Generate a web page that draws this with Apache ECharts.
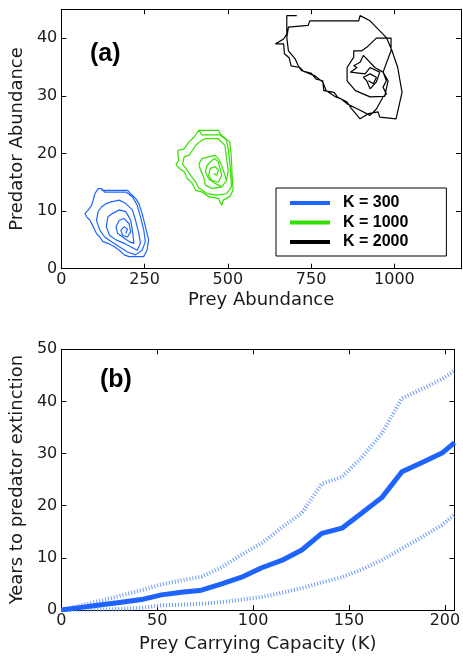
<!DOCTYPE html>
<html>
<head>
<meta charset="utf-8">
<script src="https://cdn.jsdelivr.net/npm/echarts@6/dist/echarts.min.js"></script>
<style>
html,body{margin:0;padding:0;background:#fff;}
#chart{width:463px;height:659px;}
</style>
</head>
<body>
<div id="chart"></div>
<script>
// ---------- Panel (a): predator-prey trajectories [prey, predator] ----------
var trajK300 = [
  [120.4,13.6],[198.7,13.6],[208.5,13.0],[223.1,12.2],[232.9,11.3],[242.7,9.6],[252.5,7.3],[262.3,5.0],[257.4,3.2],[247.6,2.1],
  [228.0,2.1],[203.6,2.1],[188.9,2.4],[174.2,3.2],[159.5,3.8],[140.0,4.4],[125.3,4.7],[115.5,5.5],[105.7,6.1],[95.9,7.3],
  [86.1,8.4],[76.3,9.0],[71.4,9.6],[81.2,10.2],[91.0,11.0],[95.9,11.9],[100.8,13.0],[110.6,13.9],[120.4,13.9],
  [130.2,13.3],[193.8,13.3],[213.4,12.5],[228.0,11.0],[237.8,9.0],[247.6,6.7],[252.5,4.7],[242.7,3.2],[223.1,2.4],[198.7,2.9],
  [174.2,3.8],[149.7,4.7],[130.2,5.5],[115.5,6.7],[105.7,8.4],[110.6,9.9],[120.4,10.7],[135.1,11.3],[149.7,11.6],[174.2,11.9],
  [193.8,11.3],[213.4,10.2],[223.1,8.4],[232.9,6.1],[237.8,4.4],[228.0,3.2],[208.5,3.8],[188.9,4.4],[164.4,5.0],[144.8,5.8],
  [135.1,7.3],[140.0,9.0],[154.6,9.6],[174.2,10.2],[193.8,9.9],[208.5,8.4],[213.4,6.7],[218.3,4.4],[203.6,4.7],[184.0,5.5],
  [169.3,6.1],[164.4,7.3],[174.2,8.4],[188.9,8.7],[203.6,7.8],[208.5,6.4],[198.7,5.5],[184.0,5.8],[179.1,6.7],[188.9,7.3],
  [198.7,6.9],[193.8,6.1]
];
var trajK1000 = [
  [413.0,24.0],[471.7,24.0],[481.5,23.1],[506.0,22.0],[510.9,19.1],[512.8,16.2],[515.8,13.6],[506.0,12.5],[486.4,11.9],[481.5,11.0],
  [471.7,12.2],[442.4,12.5],[422.8,13.3],[403.2,13.6],[393.4,14.8],[378.8,15.6],[369.0,16.8],[354.3,17.4],[344.5,18.05],[352.3,18.8],
  [349.4,20.5],[369.0,20.8],[383.7,22.0],[398.3,22.8],[413.0,24.0],
  [422.8,23.2],[476.6,23.2],[496.2,22.3],[501.1,20.8],[506.0,18.5],[508.9,16.2],[510.9,14.2],[496.2,13.0],[466.8,12.75],[437.5,13.03],
  [413.0,14.0],[403.2,15.05],[388.5,16.2],[373.9,17.4],[364.1,18.2],[369.0,19.4],[383.7,19.7],[393.4,20.5],[403.2,21.4],[422.8,22.3],
  [432.6,22.55],[471.7,22.55],[491.3,21.4],[496.2,19.1],[501.1,17.1],[496.2,15.3],[481.5,14.2],[452.2,13.9],[432.6,14.5],[427.7,15.9],
  [417.9,17.1],[413.0,18.2],[422.8,19.1],[442.4,19.4],[461.9,19.67],[471.7,19.1],[481.5,17.9],[491.3,16.2],[496.2,15.3],
  [481.5,14.2],[461.9,14.8],[442.4,15.6],[432.6,16.8],[437.5,17.9],[452.2,18.8],[461.9,19.1],[471.7,18.5],[476.6,17.4],[481.5,16.2],
  [471.7,15.0],[452.2,15.3],[442.4,16.2],[447.3,17.4],[461.9,17.7],[471.7,17.1],[466.8,16.2],[457.1,16.5]
];
var trajK2000 = [
  [707,43.9],[677,43.9],[677,40.7],[667.5,39.85],[643,39.0],[667.5,39.0],[670,37.3],[684,36.6],[690,35.2],[716,34.9],
  [726,34.3],[751,33.9],[765,32.9],[785,32.6],[788,30.9],[819,30.6],[829,29.8],[858,28.9],[868,28.0],[897,26.0],
  [922,26.9],[951,27.2],[956,26.3],[1005,26.0],[1023,30.6],[1010,34.9],[993,37.8],[976,40.1],[927,43.0],[897,43.9],
  [893,43.0],[746,43.0],[741,42.2],[682,41.9],[677,40.1],[682,37.8],[702,36.4],[711.5,35.2],[721,34.4],[760,33.5],
  [785,32.4],[795,30.9],[824,29.8],[839,29.5],[858,28.6],[897,27.5],[927,26.6],[946,27.7],[966,29.8],[976,30.3],
  [966,31.5],[976,32.6],[966,34.1],[990,37.8],[990,40.0],[946,40.0],[917,38.4],[902,37.8],[878,37.8],[878,36.7],
  [858,34.9],[858,32.6],[883,30.9],[927,29.8],[971,29.9],[981,32.6],[966,34.1],[941.5,34.9],[907,37.0],[897,35.8],
  [878,35.2],[888,34.9],[868,34.1],[912,33.8],[927,34.9],[956,34.1],[946,32.4],[927,31.2],[917,32.6],[907,33.2],
  [927,33.8],[946,33.2],[937,32.1],[922,32.6]
];
var legendNames = ['K = 300', 'K = 1000', 'K = 2000'];

// ---------- Panel (b): years to predator extinction ----------
var capacityK = [0,10.4,20.9,31.3,41.8,52.2,62.7,73.1,83.6,94,104.5,114.9,125.4,135.8,146.3,156.7,167.2,177.6,188.1,198.5,205];
var meanYears = [0,0.5,1.0,1.5,2.0,2.9,3.4,3.8,5.0,6.3,8.1,9.5,11.5,14.7,15.7,18.6,21.6,26.5,28.3,30.1,32.1];
var upperYears = [0,0.9,1.8,2.8,3.8,4.9,5.7,6.4,8.2,10.6,12.8,15.8,18.6,24.2,25.5,29.3,33.9,40.6,42.4,44.3,45.9];
var lowerYears = [0,0.05,0.1,0.2,0.4,0.9,1.0,1.2,1.5,2.0,2.5,3.3,4.2,5.3,6.3,7.8,9.6,11.8,14.0,16.3,18.3];

function zip(xs, ys){ return xs.map(function(x,i){ return [x, ys[i]]; }); }

var tickFont = {fontFamily:'DejaVu Sans', fontSize:16, color:'#1a1a1a'};
var nameFont = {fontFamily:'DejaVu Sans', fontSize:18, color:'#1a1a1a'};

function mainAxis(gridIndex, pos, min, max, interval, name, nameGap, isY, showMax){
  return {
    type:'value', gridIndex:gridIndex, position:pos, min:min, max:max, interval:interval,
    name:name, nameLocation:'middle', nameGap:nameGap, nameRotate: isY ? 90 : 0,
    nameTextStyle:nameFont,
    axisLine:{show:true, onZero:false, lineStyle:{color:'#000', width:1}},
    axisTick:{show:true, inside:true, length:5, lineStyle:{color:'#000', width:1}},
    axisLabel:Object.assign({show:true, margin:isY ? 4 : 3, showMaxLabel:showMax,
      formatter:function(v){ return String(v); }}, tickFont),
    splitLine:{show:false}
  };
}
function mirrorAxis(gridIndex, pos, min, max, interval){
  return {
    type:'value', gridIndex:gridIndex, position:pos, min:min, max:max, interval:interval,
    axisLine:{show:true, onZero:false, lineStyle:{color:'#000', width:1}},
    axisTick:{show:true, inside:true, length:5, lineStyle:{color:'#000', width:1}},
    axisLabel:{show:false}, splitLine:{show:false}
  };
}

var chart = echarts.init(document.getElementById('chart'), null, {renderer:'canvas'});
var option = {
  animation:false,
  backgroundColor:'#fff',
  grid:[
    {left:54, right:2, top:9.3, bottom:390.3},
    {left:54, right:2, top:349.3, bottom:49}
  ],
  xAxis:[
    mainAxis(0,'bottom',0,1200,250,'Prey Abundance',23,false,false),
    mirrorAxis(0,'top',0,1200,250),
    mainAxis(1,'bottom',0,205,50,'Prey Carrying Capacity (K)',25,false,false),
    mirrorAxis(1,'top',0,205,50)
  ],
  yAxis:[
    mainAxis(0,'left',0,45,10,'Predator Abundance',24,true,false),
    mirrorAxis(0,'right',0,45,10),
    mainAxis(1,'left',0,50,10,'Years to predator extinction',24,true,true),
    mirrorAxis(1,'right',0,50,10)
  ],
  legend:{
    data:legendNames, orient:'vertical', left:276, top:188,
    icon:'rect', itemWidth:40, itemHeight:4, itemGap:3.5,
    padding:[7,38,6,14], borderColor:'#000', borderWidth:1, backgroundColor:'#fff',
    selectedMode:false,
    textStyle:{fontFamily:'Liberation Sans', fontWeight:'bold', fontSize:16, color:'#000', lineHeight:16, padding:[0,0,0,8]}
  },
  graphic:[
    {type:'text', left:90, top:42, style:{text:'(a)', font:'bold 25px "Liberation Sans"', fill:'#000'}},
    {type:'text', left:100, top:368, style:{text:'(b)', font:'bold 25px "Liberation Sans"', fill:'#000'}}
  ],
  series:[
    {name:legendNames[0], type:'line', xAxisIndex:0, yAxisIndex:0, data:trajK300, showSymbol:false, symbol:'none',
     lineStyle:{color:'#1f66ff', width:1.2}, itemStyle:{color:'#1f66ff'}, z:3},
    {name:legendNames[1], type:'line', xAxisIndex:0, yAxisIndex:0, data:trajK1000, showSymbol:false, symbol:'none',
     lineStyle:{color:'#33e000', width:1.2}, itemStyle:{color:'#33e000'}, z:3},
    {name:legendNames[2], type:'line', xAxisIndex:0, yAxisIndex:0, data:trajK2000, showSymbol:false, symbol:'none',
     lineStyle:{color:'#000', width:1.2}, itemStyle:{color:'#000'}, z:3},
    {name:'upper', type:'line', xAxisIndex:2, yAxisIndex:2, data:zip(capacityK, upperYears), showSymbol:false, symbol:'none',
     lineStyle:{color:'#6b9bff', width:4, type:[1,2]}, z:2},
    {name:'lower', type:'line', xAxisIndex:2, yAxisIndex:2, data:zip(capacityK, lowerYears), showSymbol:false, symbol:'none',
     lineStyle:{color:'#6b9bff', width:4, type:[1,2]}, z:2},
    {name:'mean', type:'line', xAxisIndex:2, yAxisIndex:2, data:zip(capacityK, meanYears), showSymbol:false, symbol:'none',
     lineStyle:{color:'#1f63ff', width:5}, z:4}
  ]
};
chart.setOption(option);
</script>
</body>
</html>
